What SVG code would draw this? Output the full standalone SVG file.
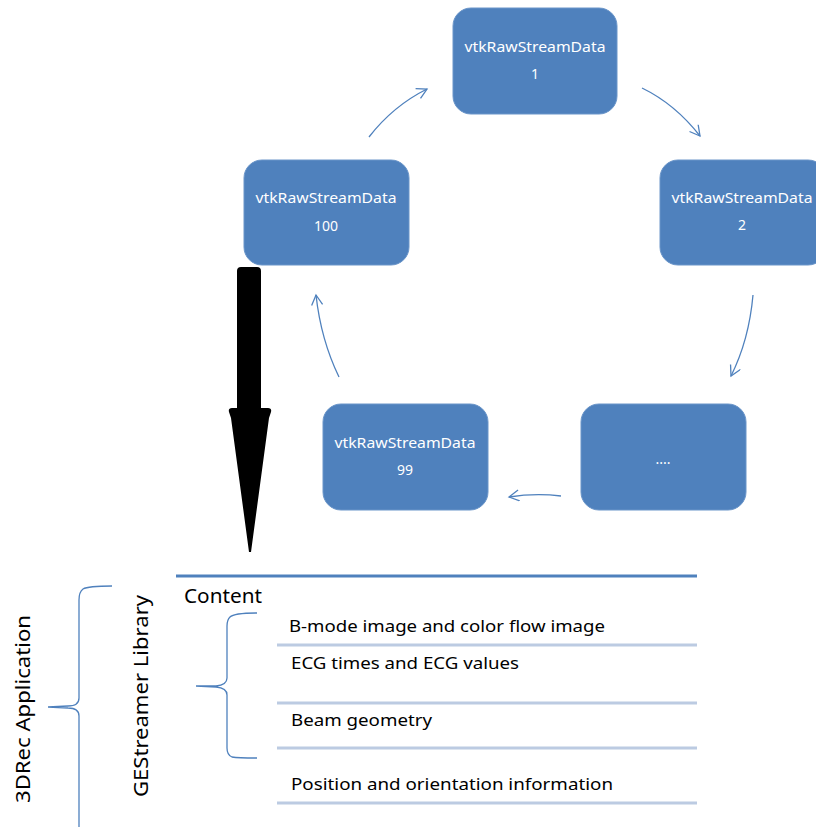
<svg xmlns="http://www.w3.org/2000/svg" width="816" height="827" viewBox="0 0 816 827">
  <style>
    .node rect { fill: #4f81bd; stroke: #6a95c9; stroke-width: 1; }
    .node text { fill: #ffffff; font-family: "Noto Sans", "Liberation Sans", sans-serif; font-size: 14px; text-anchor: middle; }
    .conn path { fill: none; stroke: #4f81bd; stroke-width: 1.3; }
    .label { fill: #000000; font-family: "Noto Sans", "Liberation Sans", sans-serif; }
    .rule { stroke: #bccbe2; stroke-width: 3; }
    .brace { fill: none; stroke: #4f81bd; stroke-width: 1.3; }
  </style>
  <defs>
    <marker id="open" markerUnits="userSpaceOnUse" markerWidth="14" markerHeight="14" refX="11" refY="6" orient="auto">
      <path d="M1,0.5 L11,6 L1,11.5" fill="none" stroke="#4f81bd" stroke-width="1.3"/>
    </marker>
  </defs>

  <rect width="816" height="827" fill="#ffffff"/>

  <!-- ring of stream buffers -->
  <g id="node-1" class="node">
    <rect x="453" y="8" width="164" height="106" rx="18"/>
    <text x="535" y="52" textLength="141" lengthAdjust="spacingAndGlyphs">vtkRawStreamData</text>
    <text x="535" y="79">1</text>
  </g>
  <g id="node-2" class="node">
    <rect x="660" y="160" width="166" height="105" rx="18"/>
    <text x="742" y="203" textLength="141" lengthAdjust="spacingAndGlyphs">vtkRawStreamData</text>
    <text x="742" y="230">2</text>
  </g>
  <g id="node-more" class="node">
    <rect x="581" y="404" width="165" height="106" rx="18"/>
    <text x="663" y="464">....</text>
  </g>
  <g id="node-99" class="node">
    <rect x="323" y="404" width="165" height="106" rx="18"/>
    <text x="405" y="448" textLength="141" lengthAdjust="spacingAndGlyphs">vtkRawStreamData</text>
    <text x="405" y="475">99</text>
  </g>
  <g id="node-100" class="node">
    <rect x="244" y="160" width="165" height="105" rx="18"/>
    <text x="326" y="203" textLength="141" lengthAdjust="spacingAndGlyphs">vtkRawStreamData</text>
    <text x="326" y="231">100</text>
  </g>

  <g id="connectors" class="conn">
    <path d="M642,88 Q675,104 700,136" marker-end="url(#open)"/>
    <path d="M753,295 Q749,340 731,376" marker-end="url(#open)"/>
    <path d="M561,496 Q535,493 509,497" marker-end="url(#open)"/>
    <path d="M339,377 Q321,340 316,295" marker-end="url(#open)"/>
    <path d="M369,137 Q393,106 427,89" marker-end="url(#open)"/>
  </g>

  <!-- heavy output arrow -->
  <g id="output-arrow">
    <path d="M237,271 Q237,267 241,267 L257,267 Q261,267 261,271 L261,408 L268,408 Q272,408 271,412 L269,418 L251,552 L249,552 L231,418 L229,412 Q228,408 232,408 L237,408 Z" fill="#000000"/>
  </g>

  <!-- content table -->
  <g id="content-table">
    <line x1="176" y1="576" x2="697" y2="576" stroke="#4f81bd" stroke-width="3"/>
    <text class="label" x="184" y="603" font-size="19" textLength="78" lengthAdjust="spacingAndGlyphs">Content</text>
    <line class="rule" x1="277" y1="645" x2="697" y2="645"/>
    <line class="rule" x1="277" y1="703" x2="697" y2="703"/>
    <line class="rule" x1="277" y1="748" x2="697" y2="748"/>
    <line class="rule" x1="277" y1="803" x2="697" y2="803"/>
    <text class="label" x="289" y="632" font-size="17" textLength="316" lengthAdjust="spacingAndGlyphs">B-mode image and color flow image</text>
    <text class="label" x="291" y="669" font-size="17" textLength="228" lengthAdjust="spacingAndGlyphs">ECG times and ECG values</text>
    <text class="label" x="291" y="726" font-size="17" textLength="141" lengthAdjust="spacingAndGlyphs">Beam geometry</text>
    <text class="label" x="291" y="790" font-size="17" textLength="322" lengthAdjust="spacingAndGlyphs">Position and orientation information</text>
  </g>

  <!-- braces and side labels -->
  <g id="content-brace">
    <path class="brace" d="M257,613 Q234,613 230,617 Q227,620 227,626 L227,678 Q227,685 216,686 L196,686 L216,687 Q227,688 227,695 L227,748 Q227,755 232,757 Q238,758 257,758"/>
  </g>
  <g id="library-label">
    <text class="label" transform="translate(148,696) rotate(-90)" font-size="19" text-anchor="middle" textLength="202" lengthAdjust="spacingAndGlyphs">GEStreamer  Library</text>
  </g>
  <g id="application-brace">
    <path class="brace" d="M112,586 Q88,586 83,589 Q79,592 79,600 L79,698 Q79,706 68,706 L48,707 L68,708 Q79,708 79,716 L79,830"/>
  </g>
  <g id="application-label">
    <text class="label" transform="translate(30,709) rotate(-90)" font-size="19" text-anchor="middle" textLength="188" lengthAdjust="spacingAndGlyphs">3DRec Application</text>
  </g>
</svg>
